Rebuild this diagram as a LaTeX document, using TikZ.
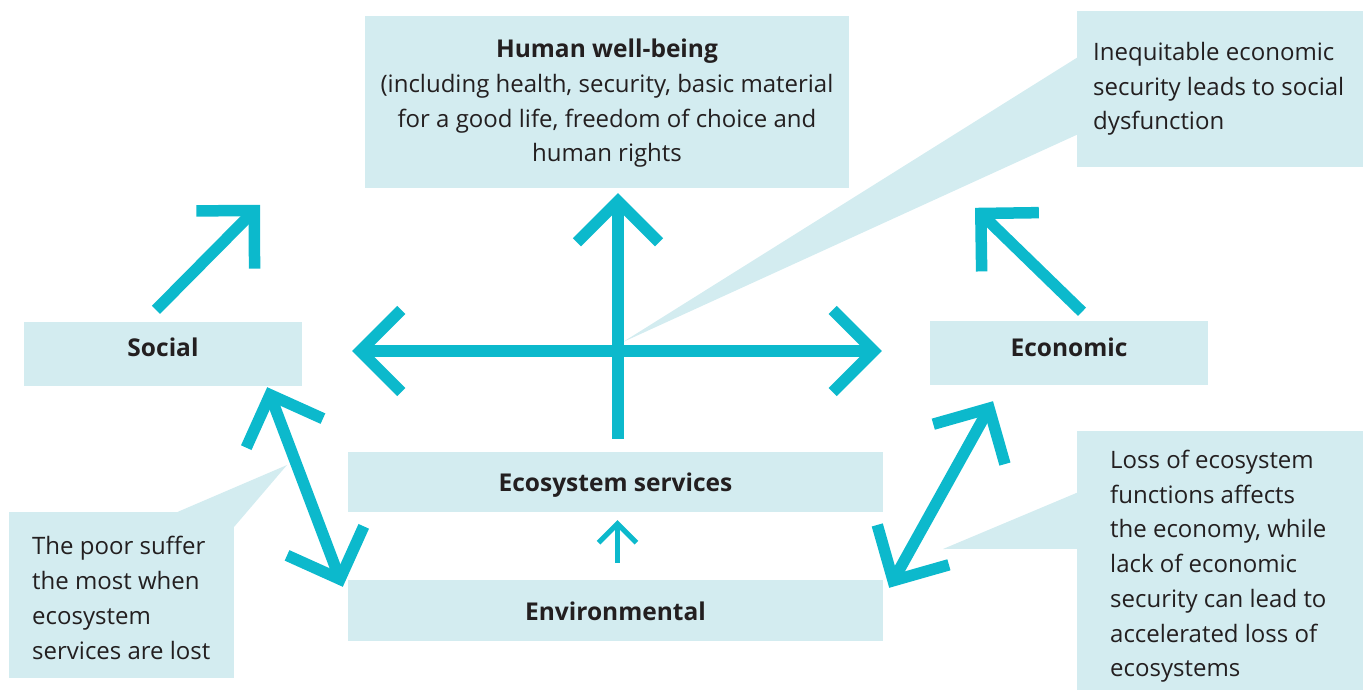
\documentclass[tikz,border=0pt]{standalone}
\usepackage{fontspec}
\setmainfont{Open Sans}
\usetikzlibrary{arrows.meta,calc}
\definecolor{teal1}{HTML}{0CB9CC}
\definecolor{boxfill}{HTML}{D3ECF0}
\definecolor{txt}{HTML}{231F20}
\begin{document}
\begin{tikzpicture}[x=1pt,y=-1pt,
  box/.style 2 args={fill=boxfill,draw=none,inner sep=0pt,minimum width=#1,minimum height=#2},
  lbl/.style={font=\fontsize{24.5}{29}\selectfont\bfseries,text=txt,inner sep=0pt},
  body/.style={font=\fontsize{24}{34.7}\selectfont,text=txt,inner sep=0pt},
  wedge/.style={fill=boxfill,draw=none},
  bigtip/.tip={Straight Barb[length=41pt,width=82pt]},
  smalltip/.tip={Straight Barb[length=19pt,width=38pt]},
  arr/.style={draw=teal1,line width=11.5pt,-bigtip},
  darr/.style={draw=teal1,line width=11.5pt,bigtip-bigtip},
  sarr/.style={draw=teal1,line width=5pt,-smalltip}]
\useasboundingbox (0,0) rectangle (1363,690);

% callout tips
\coordinate (ineqtip) at (623,342);
\coordinate (poortip) at (287,465);
\coordinate (losstip) at (943,549);

% boxes
\node[box={484pt}{172pt}] (hw) at (607,102) {};
\node[box={286pt}{156pt}] (ineq) at (1220,89) {};
\node[box={278pt}{64pt},label={[lbl,yshift=6.3pt]center:Social}] (soc) at (163,354) {};
\node[box={278pt}{64pt},label={[lbl,yshift=5.6pt]center:Economic}] (eco) at (1069,353) {};
\node[box={535pt}{60pt},label={[lbl,yshift=-3.5pt]center:Ecosystem services}] (es) at (615.5,482) {};
\node[box={535pt}{61pt},label={[lbl,yshift=-1.2pt]center:Environmental}] (env) at (615.5,610.5) {};
\node[box={225pt}{166pt}] (poor) at (121.5,595) {};
\node[box={286pt}{259pt}] (loss) at (1220,560.5) {};

\fill[wedge] ([yshift=-47pt]ineq.north west) -- (ineqtip) -- ([yshift=-124pt]ineq.north west) -- cycle;
\fill[wedge] ([xshift=169pt]poor.north west) -- (poortip) -- ([yshift=-15pt]poor.north east) -- cycle;
\fill[wedge] ([yshift=-62pt]loss.north west) -- (losstip) -- ([yshift=-118pt]loss.north west) -- cycle;

% texts (anchor base = baseline of last line)
\node[body,anchor=base,align=center] (hwt) at (607,161.7)
  {{\fontsize{24.5}{34.7}\selectfont\bfseries Human well-being}\\(including health, security, basic material\\for a good life, freedom of choice and\\human rights};
\node[body,anchor=base west,align=left] (ineqt) at (1093,130)
  {Inequitable economic\\security leads to social\\dysfunction};
\node[body,anchor=base west,align=left] (poort) at (32,659)
  {The poor suffer\\the most when\\ecosystem\\services are lost};
\node[body,anchor=base west,align=left] (losst) at (1110,676.7)
  {Loss of ecosystem\\functions affects\\the economy, while\\lack of economic\\security can lead to\\accelerated loss of\\ecosystems};

% arrows
\draw[arr] ([xshift=2.5pt,yshift=13pt]es.north) -- ([xshift=11pt,yshift=-5pt]hw.south);
\draw[darr] ([shift={(50pt,3pt)}]soc.east) -- ([shift={(-48pt,2pt)}]eco.west);
\draw[arr] ([shift={(-7pt,12pt)}]soc.north) -- ([shift={(97pt,117pt)}]soc.north);
\draw[arr] ([shift={(13pt,9pt)}]eco.north) -- ([shift={(-94pt,113pt)}]eco.north);
\draw[darr] ([shift={(-35pt,-1pt)}]soc.south east) -- ([shift={(-5pt,-7pt)}]env.north west);
\draw[darr] ([shift={(-76pt,-16pt)}]eco.south) -- ([shift={(6pt,-8pt)}]env.north east);
\draw[sarr] ([xshift=2pt,yshift=17pt]env.north) -- ([xshift=2pt,yshift=-8pt]es.south);
\end{tikzpicture}
\end{document}
